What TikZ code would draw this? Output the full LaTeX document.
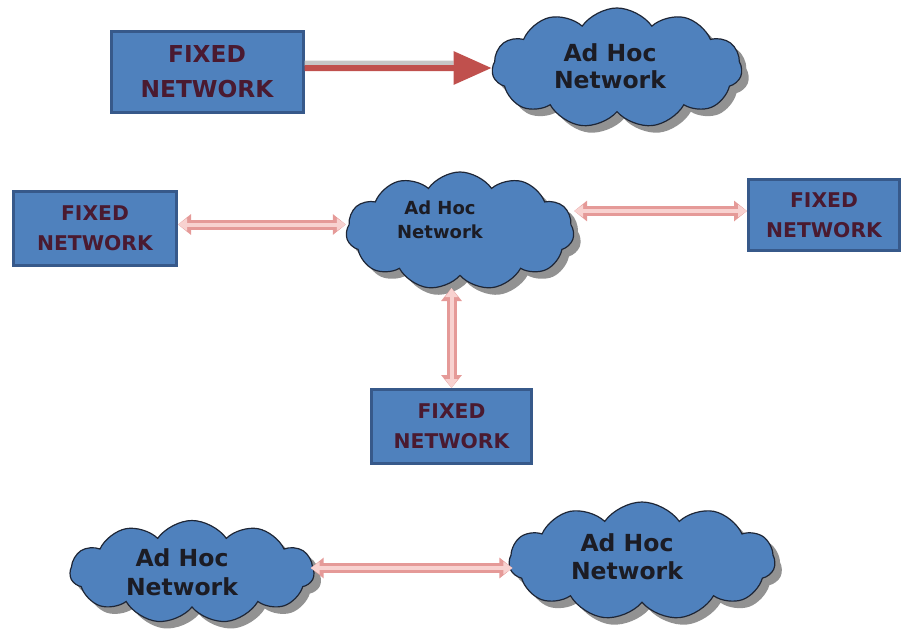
\documentclass[tikz,border=0pt]{standalone}
\usepackage{fontspec}
\setmainfont{DejaVu Sans}
\usetikzlibrary{shapes.symbols,shadows,arrows.meta,calc}
\definecolor{bfill}{HTML}{4F81BD}
\definecolor{bborder}{HTML}{37598A}
\definecolor{btext}{HTML}{4A1A30}
\definecolor{cborder}{HTML}{1E2636}
\definecolor{ctext}{HTML}{1C1C24}
\definecolor{shadowgray}{HTML}{7F7F7F}
\definecolor{ared}{HTML}{C0504D}
\definecolor{pinkout}{HTML}{E59A98}
\definecolor{pinkin}{HTML}{F8D2D0}
\begin{document}
\begin{tikzpicture}[x=1pt,y=-1pt,
  fixedbox/.style={draw=bborder, line width=3pt, fill=bfill, text=btext,
    font=\bfseries\fontsize{20.3}{30}\selectfont, align=center, inner sep=0pt},
  adhoc/.style={cloud, cloud puffs=11, cloud puff arc=110, cloud ignores aspect,
    draw=cborder, line width=1.2pt, fill=bfill, inner sep=0pt,
    drop shadow={shadow xshift=7pt, shadow yshift=-7pt, fill=shadowgray, opacity=0.85}},
  cloudtext/.style={text=ctext, font=\bfseries\fontsize{23.5}{28}\selectfont, align=center, inner sep=0pt},
  bigarrow/.style={draw=ared, line width=6pt, -{Triangle[length=38pt,width=32pt]}},
  linkarrow/.style={draw=pinkin, line width=4pt,
    {Triangle[length=9pt,width=12pt]}-{Triangle[length=9pt,width=12pt]},
    preaction={draw=pinkout, line width=10pt,
      {Triangle[length=13pt,width=20pt]}-{Triangle[length=13pt,width=20pt]}}}
]
\useasboundingbox (0,0) rectangle (902,637);

% top row
\node[fixedbox, minimum width=192pt, minimum height=81pt,
  font=\bfseries\fontsize{23.3}{35}\selectfont] (fix1) at (207,72) {FIXED\\NETWORK};
\node[adhoc, minimum width=250pt, minimum height=120pt] (net1) at (617,68) {};
\node[cloudtext, font=\bfseries\fontsize{23.5}{27}\selectfont] (t1) at (610,66) {Ad Hoc\\Network};
\draw[draw=gray!45, line width=5pt] ($(fix1.east |- net1)+(0,-5)$) -- ($(net1.west)+(-38,-5)$);
\draw[bigarrow] (fix1.east |- net1) -- (net1.west);

% middle
\node[adhoc, minimum width=228pt, minimum height=118pt] (net2) at (460,231) {};
\node[cloudtext, font=\bfseries\fontsize{18}{24}\selectfont] (t2) at (440,220) {Ad Hoc\\Network};
\node[fixedbox, minimum width=163pt, minimum height=74pt] (fix2) at (95,228.5) {FIXED\\NETWORK};
\node[fixedbox, minimum width=151pt, minimum height=71pt] (fix3) at (824,215) {FIXED\\NETWORK};
\node[fixedbox, minimum width=160pt, minimum height=74pt] (fix4) at (451.5,426.5) {FIXED\\NETWORK};
\draw[linkarrow] ($(fix2.east)+(0,-4)$) -- ($(fix2.east -| net2.west)+(0,-4)$);
\draw[linkarrow] ($(fix3.west)+(0,-4)$) -- ($(fix3.west -| net2.east)+(0,-4)$);
\draw[linkarrow] (fix4.north) -- ($(fix4.north |- net2.center)+(0,57)$);

% bottom row
\node[adhoc, minimum width=244pt, minimum height=103pt] (net3) at (192,572) {};
\node[cloudtext, font=\bfseries\fontsize{23.5}{29}\selectfont] (t3) at (182,572) {Ad Hoc\\Network};
\node[adhoc, minimum width=266pt, minimum height=118pt] (net4) at (642,561) {};
\node[cloudtext] (t4) at (627,557) {Ad Hoc\\Network};
\draw[linkarrow] ($(net3.east)+(-4,-4)$) -- ($(net3.east -| net4.west)+(4,-4)$);
\end{tikzpicture}
\end{document}
